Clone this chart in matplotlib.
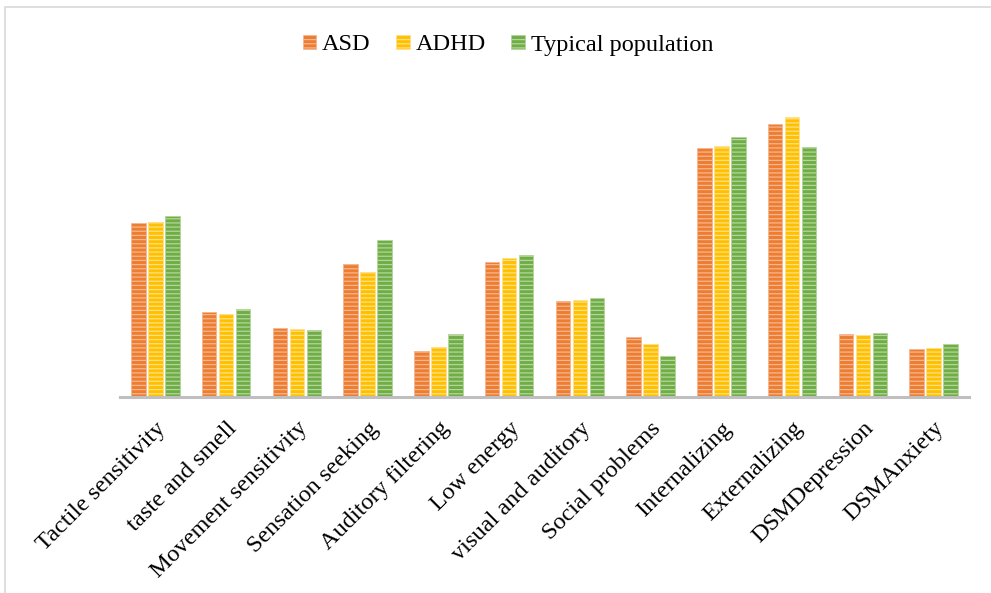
import numpy as np
import matplotlib
matplotlib.use("Agg")
import matplotlib.pyplot as plt
from matplotlib.patches import Rectangle

# scale scores per subscale
categories = ["Tactile sensitivity", "taste and smell", "Movement sensitivity",
              "Sensation seeking", "Auditory filtering", "Low energy",
              "visual and auditory", "Social problems", "Internalizing",
              "Externalizing", "DSMDepression", "DSMAnxiety"]
asd = [174, 85, 69, 133, 46, 135, 96, 60, 249, 273, 63, 48]
adhd = [175, 83, 68, 125, 50, 139, 97, 53, 251, 280, 62, 49]
typical = [181, 88, 67, 157, 63, 142, 99, 41, 260, 250, 64, 53]

series = [("ASD", asd, "#ED7D31", "#F6B690"),
          ("ADHD", adhd, "#FFC000", "#FFE08A"),
          ("Typical population", typical, "#70AD47", "#B3D69B")]

plt.rcParams["font.family"] = ["Liberation Serif", "DejaVu Serif"]
plt.rcParams["hatch.linewidth"] = 0.9

W, H = 991, 593
fig = plt.figure(figsize=(W / 100, H / 100), dpi=100)
ax = fig.add_axes([120 / W, 1 - 397 / H, (969 - 120) / W, (397 - 70) / H])

x = np.arange(len(categories))
width = 0.205
step = 0.24
for i, (name, vals, color, stripe) in enumerate(series):
    ax.bar(x + (i - 1) * step, vals, width, color=color, edgecolor=stripe,
           hatch="----", linewidth=0.6, label=name)

ax.set_xlim(-0.5, len(categories) - 0.5)
ax.set_ylim(0, 397 - 70)
ax.set_yticks([])
for s in ["left", "right", "top"]:
    ax.spines[s].set_visible(False)
ax.spines["bottom"].set_color("#bfbfbf")
ax.spines["bottom"].set_linewidth(2.2)
ax.set_xticks(x)
ax.set_xticklabels(categories, rotation=45, ha="right", va="top",
                   rotation_mode="anchor", fontsize=17.5)
ax.tick_params(axis="x", length=0, pad=15)

fig.legend(loc="center", bbox_to_anchor=(508 / W, 1 - 45 / H), ncol=3,
           frameon=False, fontsize=17.5, handlelength=0.55, handleheight=0.55,
           handletextpad=0.25, columnspacing=1.05)

# light frame around the chart area
fig.patches.append(Rectangle((5 / W, -0.1), 1.2, 1 - 7 / H + 0.1,
                             transform=fig.transFigure, fill=False,
                             edgecolor="#d9d9d9", linewidth=1.2))

fig.savefig("out.png", dpi=100)
